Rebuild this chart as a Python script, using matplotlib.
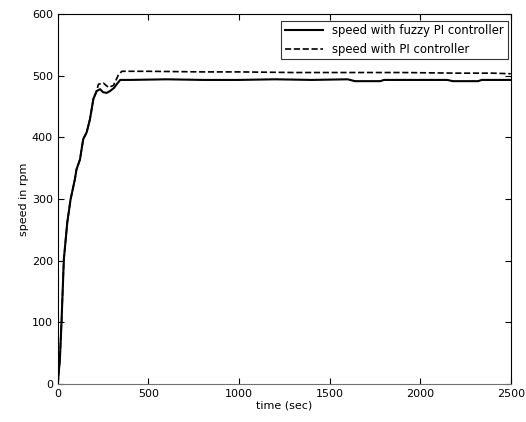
import matplotlib
matplotlib.use('Agg')
import matplotlib.pyplot as plt

# speed with fuzzy PI controller (solid)
fuzzy_t = [0, 5, 11, 20, 33, 52, 70, 94, 103, 122, 140, 159, 177, 196, 214, 233,
           250, 270, 288, 310, 325, 344, 400, 600, 800, 1000, 1200, 1400, 1600,
           1640, 1780, 1800, 2000, 2150, 2180, 2320, 2340, 2500]
fuzzy_v = [0, 20, 39, 99, 202, 262, 299, 332, 348, 364, 397, 408, 429, 462, 475, 478,
           473, 472, 475, 480, 486, 493, 493, 494, 493, 493, 494, 493, 494,
           491, 491, 493, 493, 493, 491, 491, 493, 493]

# speed with PI controller (dashed)
pi_t = [0, 5, 11, 20, 33, 52, 70, 94, 103, 122, 140, 159, 177, 196, 214, 224,
        251, 279, 307, 334, 353, 500, 800, 1000, 1300, 1600, 1900, 2200, 2400, 2500]
pi_v = [0, 20, 39, 99, 202, 262, 299, 332, 348, 364, 397, 408, 429, 462, 475, 486,
        488, 481, 484, 501, 507, 507, 506, 506, 505, 505, 505, 504, 504, 503]

fig = plt.figure(figsize=(5.26, 4.22), dpi=100)
ax = fig.add_axes([0.110, 0.090, 0.861, 0.877])

ax.plot(fuzzy_t, fuzzy_v, color='black', linewidth=1.5, label='speed with fuzzy PI controller')
ax.plot(pi_t, pi_v, color='black', linewidth=1.2, linestyle='--', label='speed with PI controller')

ax.set_xlim(0, 2500)
ax.set_ylim(0, 600)
ax.set_xticks([0, 500, 1000, 1500, 2000, 2500])
ax.set_yticks([0, 100, 200, 300, 400, 500, 600])
ax.tick_params(direction='in', top=True, right=True, labelsize=8, length=4)
ax.spines['bottom'].set_color('#707070')
ax.set_xlabel('time (sec)', fontsize=8, labelpad=1)
ax.set_ylabel('speed in rpm', fontsize=8, labelpad=2)

leg = ax.legend(loc='upper right', bbox_to_anchor=(0.993, 0.982), borderaxespad=0,
                fontsize=8.4, fancybox=False, edgecolor='black',
                handlelength=3.3, borderpad=0.3)
leg.get_frame().set_linewidth(0.8)

fig.savefig('out.png', dpi=100)
